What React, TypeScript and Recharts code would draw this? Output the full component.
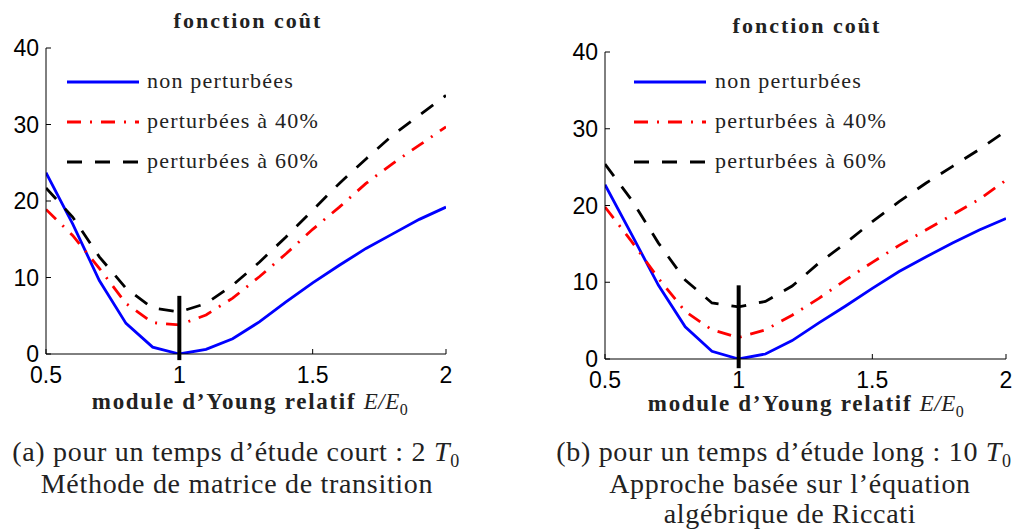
import React from 'react';
import { LineChart, Line, XAxis, YAxis, ReferenceLine } from 'recharts';

const xRelatif = [0.5, 0.6, 0.7, 0.8, 0.9, 1.0, 1.1, 1.2, 1.3, 1.4, 1.5, 1.6, 1.7, 1.8, 1.9, 2.0];

// (a) temps d'étude court : 2 T0
const courtNonPerturbees = [23.7, 17.0, 9.6, 4.0, 0.9, 0, 0.6, 2.0, 4.2, 6.8, 9.3, 11.6, 13.8, 15.7, 17.6, 19.2];
const courtPerturbees40 = [18.9, 15.5, 11.2, 6.6, 4.1, 3.8, 5.1, 7.3, 10.1, 13.1, 16.3, 19.2, 22.3, 24.9, 27.3, 29.7];
const courtPerturbees60 = [21.7, 17.9, 12.7, 8.6, 6.0, 5.5, 6.6, 9.0, 12.0, 15.3, 18.8, 22.3, 25.5, 28.6, 31.2, 33.8];
const courtMarqueur = [-0.8, 7.6];

// (b) temps d'étude long : 10 T0
const longNonPerturbees = [22.7, 16.2, 9.6, 4.2, 1.0, 0, 0.65, 2.4, 4.7, 6.9, 9.2, 11.4, 13.3, 15.1, 16.8, 18.3];
const longPerturbees40 = [19.8, 15.3, 10.5, 6.2, 3.8, 2.8, 3.8, 5.7, 7.9, 10.3, 12.6, 14.8, 16.8, 18.8, 20.8, 23.3];
const longPerturbees60 = [25.4, 20.7, 15.1, 10.3, 7.3, 6.8, 7.5, 9.5, 12.5, 15.1, 17.9, 20.5, 22.9, 25.1, 27.3, 29.7];
const longMarqueur = [-1.2, 9.6];

const xTicks = [0.5, 1, 1.5, 2];
const yTicks = [0, 10, 20, 30, 40];

const SERIES = [
    { key: 'nonPert', name: 'non perturbées', color: '#0000ff', dash: undefined },
    { key: 'pert40', name: 'perturbées à 40%', color: '#ff0000', dash: '14 9 2 9' },
    { key: 'pert60', name: 'perturbées à 60%', color: '#000000', dash: '15 13' },
];

const serif = '"Liberation Serif", "Times New Roman", serif';
const sans = '"Liberation Sans", Arial, sans-serif';

function buildData(a: number[], b: number[], c: number[]) {
    return xRelatif.map((x, i) => ({ x, nonPert: a[i], pert40: b[i], pert60: c[i] }));
}

const tickStyle = { fill: '#000', fontSize: 23, fontFamily: sans };

interface PanelProps {
    data: { x: number }[];
    marker: number[];
    left: number;
    width: number;
    height: number;
    margin: { top: number; right: number; bottom: number; left: number };
}

function Panel({ data, marker, left, width, height, margin }: PanelProps) {
    return (
        <div style={{ position: 'absolute', left, top: 0 }}>
            <LineChart width={width} height={height} data={data} margin={margin}>
                <XAxis
                    dataKey="x"
                    type="number"
                    domain={[0.5, 2]}
                    ticks={xTicks}
                    height={30}
                    tickSize={-5}
                    tickMargin={18}
                    stroke="#000"
                    tick={tickStyle}
                    allowDataOverflow
                />
                <XAxis
                    xAxisId="top"
                    orientation="top"
                    dataKey="x"
                    type="number"
                    domain={[0.5, 2]}
                    ticks={xTicks}
                    height={0}
                    tickSize={-5}
                    stroke="#000"
                    tickFormatter={() => ''}
                />
                <YAxis
                    type="number"
                    domain={[0, 40]}
                    ticks={yTicks}
                    width={40}
                    tickSize={-5}
                    tickMargin={12}
                    stroke="#000"
                    tick={tickStyle}
                    allowDataOverflow
                />
                <YAxis
                    yAxisId="right"
                    orientation="right"
                    type="number"
                    domain={[0, 40]}
                    ticks={yTicks}
                    width={0}
                    tickSize={-5}
                    stroke="#000"
                    tickFormatter={() => ''}
                />
                {SERIES.map((s) => (
                    <Line
                        key={s.key}
                        type="linear"
                        dataKey={s.key}
                        stroke={s.color}
                        strokeWidth={2.8}
                        strokeDasharray={s.dash}
                        dot={false}
                        isAnimationActive={false}
                    />
                ))}
                <ReferenceLine
                    segment={[{ x: 1, y: marker[0] }, { x: 1, y: marker[1] }]}
                    stroke="#000"
                    strokeWidth={4}
                    ifOverflow="visible"
                />
            </LineChart>
        </div>
    );
}

function Legende({ lineX, textX }: { lineX: number; textX: number }) {
    const ys = [82, 122, 162];
    return (
        <>
            <svg style={{ position: 'absolute', left: 0, top: 0 }} width={1015} height={200}>
                {SERIES.map((s, i) => (
                    <line
                        key={s.key}
                        x1={lineX}
                        x2={lineX + 72}
                        y1={ys[i]}
                        y2={ys[i]}
                        stroke={s.color}
                        strokeWidth={3}
                        strokeDasharray={s.dash}
                    />
                ))}
            </svg>
            {SERIES.map((s, i) => (
                <div
                    key={s.key}
                    style={{
                        position: 'absolute',
                        left: textX,
                        top: ys[i] - 15,
                        fontFamily: serif,
                        fontSize: 22,
                        letterSpacing: 1.2,
                        lineHeight: '28px',
                        whiteSpace: 'nowrap',
                        color: '#222',
                    }}
                >
                    {s.name}
                </div>
            ))}
        </>
    );
}

function Centered({ x, y, style, children }: { x: number; y: number; style?: React.CSSProperties; children: React.ReactNode }) {
    return (
        <div
            style={{
                position: 'absolute',
                left: x,
                top: y,
                transform: 'translate(-50%, -50%)',
                whiteSpace: 'nowrap',
                fontFamily: serif,
                lineHeight: 1,
                color: '#222',
                ...style,
            }}
        >
            {children}
        </div>
    );
}

const titleStyle: React.CSSProperties = { fontWeight: 'bold', fontSize: 22, letterSpacing: 2 };
const xLabelStyle: React.CSSProperties = { fontWeight: 'bold', fontSize: 23, letterSpacing: 1.7 };
const captionStyle: React.CSSProperties = { fontSize: 28, letterSpacing: 0.7 };

function XLabel() {
    return (
        <>
            module d’Young relatif{' '}
            <span style={{ fontStyle: 'italic', fontWeight: 'normal', letterSpacing: 0.5 }}>
                E/E<sub style={{ fontSize: 16, fontStyle: 'normal' }}>0</sub>
            </span>
        </>
    );
}

export default function App() {
    const dataCourt = buildData(courtNonPerturbees, courtPerturbees40, courtPerturbees60);
    const dataLong = buildData(longNonPerturbees, longPerturbees40, longPerturbees60);

    return (
        <div style={{ position: 'fixed', left: 0, top: 0, width: 1015, height: 532, background: '#fff', overflow: 'hidden' }}>
            <Panel
                data={dataCourt}
                marker={courtMarqueur}
                left={0}
                width={470}
                height={390}
                margin={{ top: 48, right: 24, bottom: 6, left: 6 }}
            />
            <Panel
                data={dataLong}
                marker={longMarqueur}
                left={560}
                width={455}
                height={395}
                margin={{ top: 52, right: 9, bottom: 6, left: 5 }}
            />

            <Legende lineX={67} textX={147} />
            <Legende lineX={634} textX={715} />

            <Centered x={248} y={21} style={titleStyle}>fonction coût</Centered>
            <Centered x={807} y={26} style={titleStyle}>fonction coût</Centered>

            <Centered x={250} y={404} style={xLabelStyle}><XLabel /></Centered>
            <Centered x={806} y={406} style={xLabelStyle}><XLabel /></Centered>

            <Centered x={236} y={454} style={captionStyle}>
                (a) pour un temps d’étude court : 2 <i>T</i><sub style={{ fontSize: 18 }}>0</sub>
            </Centered>
            <Centered x={237} y={484} style={captionStyle}>Méthode de matrice de transition</Centered>
            <Centered x={784} y={454} style={captionStyle}>
                (b) pour un temps d’étude long : 10 <i>T</i><sub style={{ fontSize: 18 }}>0</sub>
            </Centered>
            <Centered x={790} y={484} style={captionStyle}>Approche basée sur l’équation</Centered>
            <Centered x={790} y={514} style={captionStyle}>algébrique de Riccati</Centered>
        </div>
    );
}
